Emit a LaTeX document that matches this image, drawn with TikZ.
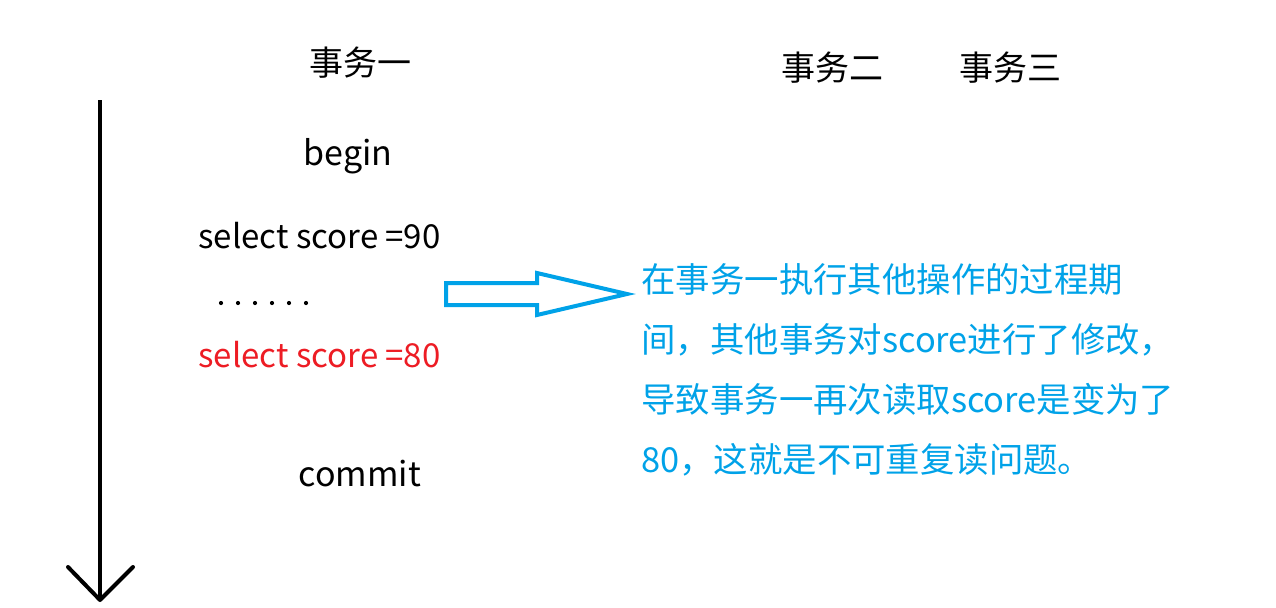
\documentclass[tikz,border=0pt]{standalone}
\usepackage{fontspec}
\setmainfont{Noto Sans CJK SC}
\usetikzlibrary{positioning}
\definecolor{Notebl}{HTML}{00A2E8}
\definecolor{Sqlred}{HTML}{ED1C24}

\tikzset{
	tlabel/.style={inner sep=0pt,font=\fontsize{17}{20}\selectfont},
	sqltext/.style={inner sep=0pt,anchor=west,font=\fontsize{16.5}{20}\selectfont},
	note/.style={inner sep=0pt,anchor=north west,align=left,text=Notebl,
		font=\fontsize{17.2}{30}\selectfont}
}

\begin{document}
\begin{tikzpicture}[x=0.5pt,y=-0.5pt]
			\useasboundingbox (0,0) rectangle (1276,607);
			% time axis
			\coordinate (ttop) at (100,100);
			\coordinate (tbot) at (100,600);
			\draw[line width=2pt] (ttop)--(tbot);
			\draw[line width=2pt,line cap=round,line join=round]
			(68,567)--(tbot)--(133,567);
			\node[tlabel] (tx1) at (360,63) {事务一};
			\node[tlabel] (tx2) at (832,68) {事务二};
			\node[tlabel] (tx3) at (1010,68) {事务三};
			\node[tlabel] (begin) at (348,156) {begin};
			\node[sqltext] (sel1) at (198,236) {select score =90};
			\foreach \i in {0,1,...,5}{
					\fill (221+\i*17,303) circle (2.1);}
			\node[sqltext,text=Sqlred] (sel2) at (198,355) {select score =80};
			\node[tlabel] (commit) at (360,474) {commit};
			% block arrow
			\draw[Notebl,line width=2pt,line join=miter]
			(446,283)--(537,283)--(537,273)--(627,294)--(537,315)
			--(537,305)--(446,305)--cycle;
			\node[note] (expl) at (641,263) {在事务一执行其他操作的过程期\\
				间，其他事务对score进行了修改，\\
				导致事务一再次读取score是变为了\\
				80，这就是不可重复读问题。};
		\end{tikzpicture}
\end{document}
